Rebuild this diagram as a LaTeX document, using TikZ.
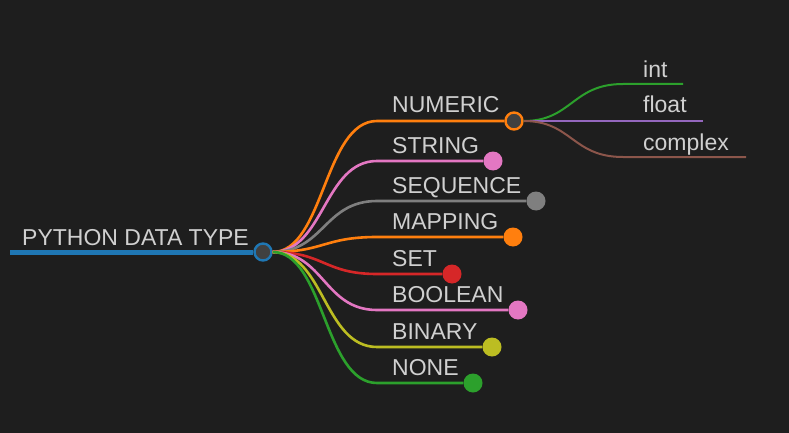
\documentclass[tikz,border=0pt]{standalone}
\usepackage{fontspec}
\setmainfont{Liberation Sans}
\definecolor{bg}{HTML}{1E1E1E}
\definecolor{txt}{HTML}{D0D0D0}
\definecolor{hub}{HTML}{404040}
\definecolor{cblue}{HTML}{1F77B4}
\definecolor{corange}{HTML}{FF7F0E}
\definecolor{cpink}{HTML}{E377C2}
\definecolor{cgray}{HTML}{7F7F7F}
\definecolor{cred}{HTML}{D62728}
\definecolor{colive}{HTML}{BCBD22}
\definecolor{cgreen}{HTML}{2CA02C}
\definecolor{cpurple}{HTML}{9467BD}
\definecolor{cbrown}{HTML}{8C564B}
\tikzset{
  lbl/.style={anchor=base west, inner sep=0pt, text=txt,
    font=\fontsize{23}{27}\selectfont},
  dot/.style={circle, inner sep=0pt, minimum size=19pt, fill=#1},
  hubdot/.style={circle, inner sep=0pt, minimum size=17pt, fill=hub,
    draw=#1, line width=2.4pt},
  branch/.style={draw=#1, line width=2.6pt},
  leaf/.style={draw=#1, line width=2pt}
}

\begin{document}
\begin{tikzpicture}[x=1pt,y=-1pt]
\fill [bg] (0,0) rectangle (789,433);
\useasboundingbox (0,0) rectangle (789,433);

% root
\coordinate (rootl) at (10,252);
\node [hubdot=cblue] (root) at (263,252) {};
\draw [branch=cblue, line width=5pt] (rootl) -- (root);
\node [lbl] (rootlbl) at (22,245) {PYTHON DATA TYPE};

% first level
\node [hubdot=corange] (num) at (514,121) {};
\node [dot=cpink] (str) at (493,161) {};
\node [dot=cgray] (seq) at (536,201) {};
\node [dot=corange] (map) at (513,237) {};
\node [dot=cred] (set) at (452,274) {};
\node [dot=cpink] (bool) at (518,310) {};
\node [dot=colive] (bin) at (492,347) {};
\node [dot=cgreen] (none) at (473,383) {};

\coordinate (numk) at (377,121);
\coordinate (strk) at (377,161);
\coordinate (seqk) at (377,201);
\coordinate (mapk) at (377,237);
\coordinate (setk) at (377,274);
\coordinate (boolk) at (377,310);
\coordinate (bink) at (377,347);
\coordinate (nonek) at (377,383);

\draw [branch=corange] (root.east) .. controls (324,252) and (324,121) .. (numk) -- (num);
\draw [branch=cpink] (root.east) .. controls (324,252) and (324,161) .. (strk) -- (str);
\draw [branch=cgray] (root.east) .. controls (324,252) and (324,201) .. (seqk) -- (seq);
\draw [branch=corange] (root.east) .. controls (324,252) and (324,237) .. (mapk) -- (map);
\draw [branch=cred] (root.east) .. controls (324,252) and (324,274) .. (setk) -- (set);
\draw [branch=cpink] (root.east) .. controls (324,252) and (324,310) .. (boolk) -- (bool);
\draw [branch=colive] (root.east) .. controls (324,252) and (324,347) .. (bink) -- (bin);
\draw [branch=cgreen] (root.east) .. controls (324,252) and (324,383) .. (nonek) -- (none);

\node [lbl] (numlbl) at (392,113) {NUMERIC};
\node [lbl] (strlbl) at (392,153) {STRING};
\node [lbl] (seqlbl) at (392,193) {SEQUENCE};
\node [lbl] (maplbl) at (392,229) {MAPPING};
\node [lbl] (setlbl) at (392,266) {SET};
\node [lbl] (boollbl) at (392,302) {BOOLEAN};
\node [lbl] (binlbl) at (392,339) {BINARY};
\node [lbl] (nonelbl) at (392,375) {NONE};

% numeric leaves
\coordinate (intk) at (623,84);
\coordinate (intend) at (683,84);
\coordinate (floatend) at (703,121);
\coordinate (cplxk) at (623,157);
\coordinate (cplxend) at (746,157);
\draw [leaf=cgreen] (num.east) .. controls (572,121) and (572,84) .. (intk) -- (intend);
\draw [leaf=cpurple] (num.east) -- (floatend);
\draw [leaf=cbrown] (num.east) .. controls (572,121) and (572,157) .. (cplxk) -- (cplxend);
\node [lbl] (intlbl) at (643,78) {int};
\node [lbl] (floatlbl) at (643,113) {float};
\node [lbl] (cplxlbl) at (643,150) {complex};
\end{tikzpicture}
\end{document}
